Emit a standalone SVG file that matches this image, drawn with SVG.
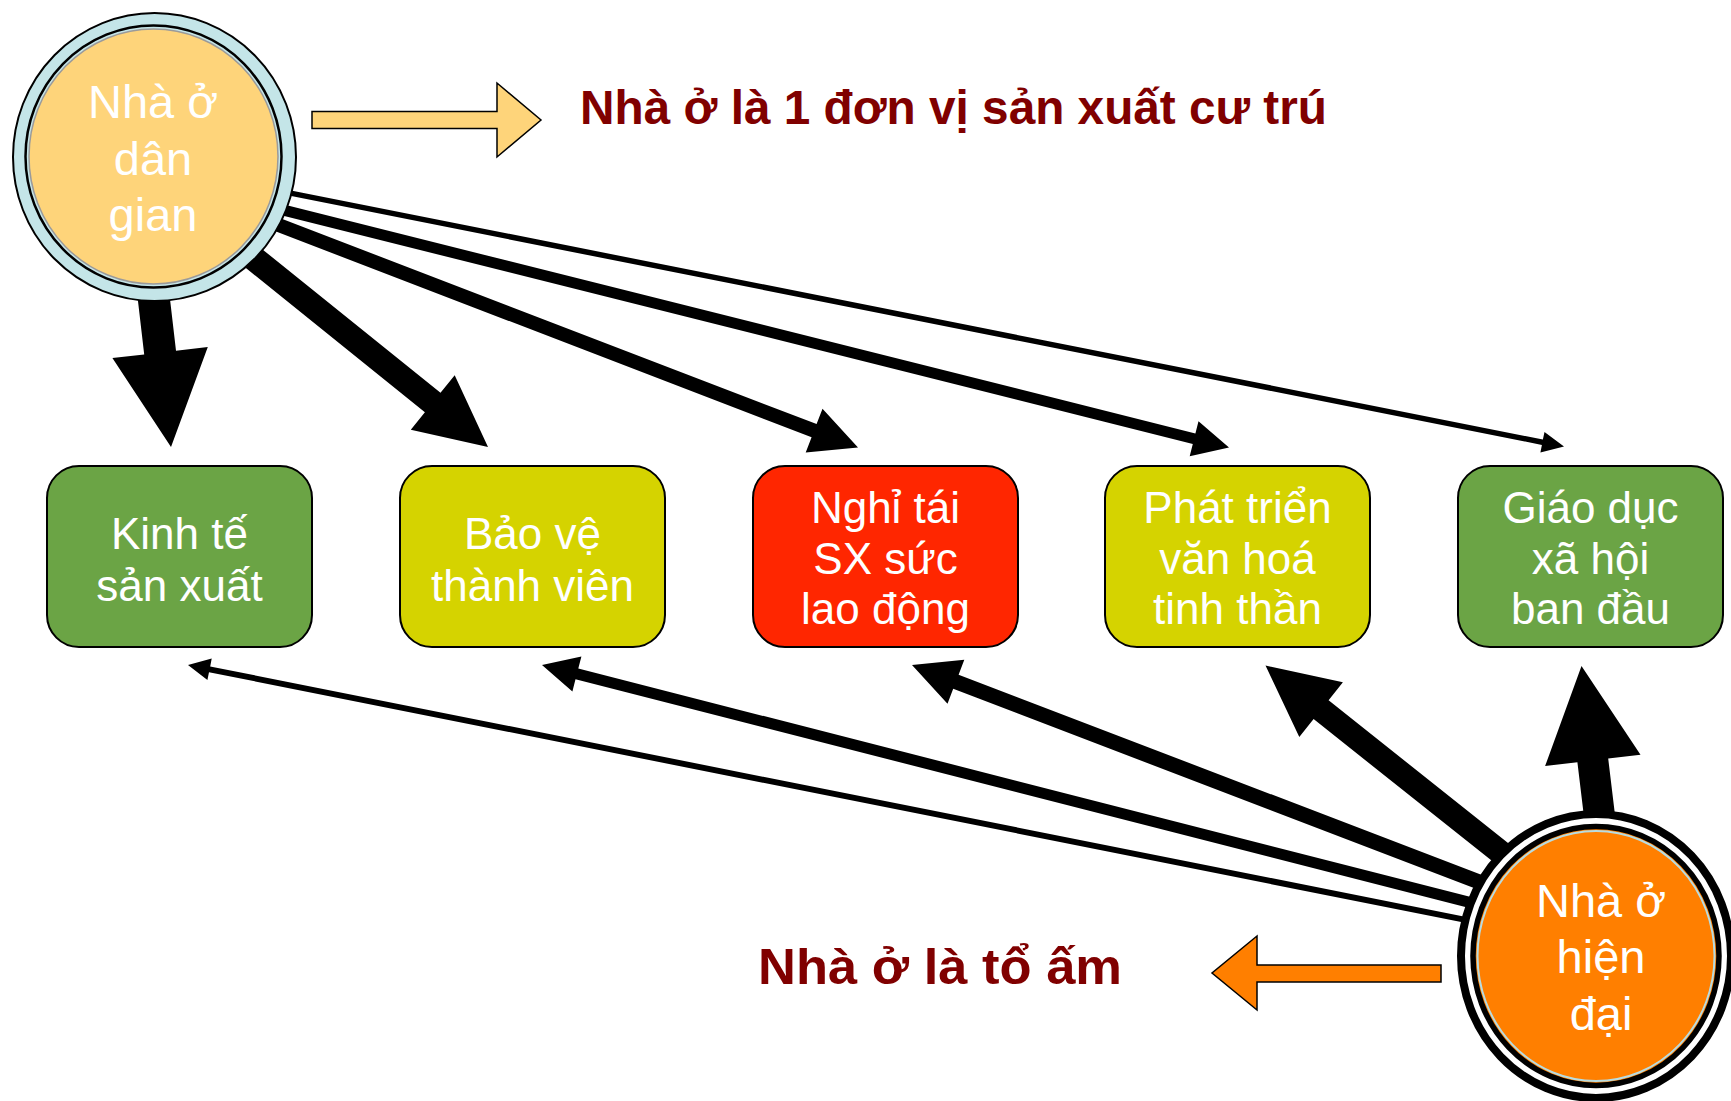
<svg xmlns="http://www.w3.org/2000/svg" width="1731" height="1101" viewBox="0 0 1731 1101">
  <defs>
    <style>
      .box { stroke: #000; stroke-width: 2; }
      .green { fill: #6BA445; }
      .olive { fill: #D5D300; }
      .red { fill: #FF2600; }
      .lbl { font-family: "Liberation Sans", Arial, sans-serif; font-size: 44px; fill: #fff; text-anchor: middle; }
      .big { font-family: "Liberation Sans", Arial, sans-serif; font-size: 47px; fill: #fff; text-anchor: middle; }
      .title { font-family: "Liberation Sans", Arial, sans-serif; font-weight: bold; fill: #800000; }
      .conn polygon { fill: #000; }
      .hollow { stroke: #000; stroke-width: 1.5; stroke-linejoin: miter; }
    </style>
  </defs>
  <rect width="1731" height="1101" fill="#fff"/>

  <!-- block-arrow connectors (drawn first so the circles cover their roots) -->
  <g id="connectors" class="conn">
    <!-- from "Nhà ở dân gian" -->
    <polygon points="168.5,286.3 176.0,350.8 207.8,347.1 171,447 112.4,358.1 144.2,354.4 136.7,290.0"/>
    <polygon points="258.1,245.9 440.5,392.7 454.7,375.2 488,447 410.8,429.8 424.9,412.2 242.5,265.3"/>
    <polygon points="277.8,217.3 816.6,424.1 822.5,408.7 858,447.5 805.7,452.6 811.6,437.2 272.8,230.3"/>
    <polygon points="276.9,202.8 1195.4,433.4 1198.5,421.2 1229,447.5 1189.7,456.2 1192.8,444.0 274.3,213.4"/>
    <polygon points="275.9,187.4 1542.9,439.5 1544.5,431.9 1564,446.5 1540.4,452.5 1541.9,444.9 274.9,192.8"/>
    <!-- from "Nhà ở hiện đại" -->
    <polygon points="1616.2,825.1 1608.2,758.5 1640.5,754.7 1581.5,666 1545.1,766.1 1577.4,762.2 1585.4,828.7"/>
    <polygon points="1518.1,851.0 1328.6,700.3 1342.9,682.3 1265.5,665.5 1299.3,737.1 1313.6,719.1 1503.2,869.8"/>
    <polygon points="1493.7,879.4 958.6,674.8 964.3,659.8 912,665 947.5,703.7 953.2,688.8 1488.3,893.4"/>
    <polygon points="1480.7,899.6 578.3,668.6 581.4,656.5 542,665 572.4,691.4 575.5,679.2 1478.0,910.3"/>
    <polygon points="1481.2,920.0 210.2,666.4 211.7,658.5 188,665 207.4,680.1 209.0,672.2 1480.0,925.8"/>
  </g>

  <!-- folk house node -->
  <g id="node-dan-gian">
    <ellipse cx="154.5" cy="157" rx="141.5" ry="144" fill="#C4E5E8" stroke="#000" stroke-width="2"/>
    <ellipse cx="153.5" cy="156.5" rx="128" ry="131" fill="#C4E5E8" stroke="#000" stroke-width="2.5"/>
    <ellipse cx="153.5" cy="156.5" rx="124.5" ry="127.5" fill="#FED47A" stroke="#9a9a9a" stroke-width="1.5"/>
    <text class="big" x="153" y="118">Nhà ở</text>
    <text class="big" x="153" y="175">dân</text>
    <text class="big" x="153" y="231">gian</text>
  </g>

  <!-- modern house node -->
  <g id="node-hien-dai">
    <ellipse cx="1596" cy="956" rx="135" ry="142" fill="#fff" stroke="#000" stroke-width="8"/>
    <ellipse cx="1596" cy="956" rx="123" ry="129.5" fill="#FF7F00" stroke="#000" stroke-width="5.5"/>
    <ellipse cx="1596" cy="956" rx="118.5" ry="125" fill="#FF7F00" stroke="#B8DCE0" stroke-width="2"/>
    <text class="big" x="1601" y="917">Nhà ở</text>
    <text class="big" x="1601" y="973">hiện</text>
    <text class="big" x="1601" y="1030">đại</text>
  </g>

  <!-- function boxes -->
  <g id="box-kinh-te">
    <rect class="box green" x="47" y="466" width="265" height="181" rx="32" ry="32"/>
    <text class="lbl" x="179.5" y="549">Kinh tế</text>
    <text class="lbl" x="179.5" y="601">sản xuất</text>
  </g>
  <g id="box-bao-ve">
    <rect class="box olive" x="400" y="466" width="265" height="181" rx="32" ry="32"/>
    <text class="lbl" x="532.5" y="549">Bảo vệ</text>
    <text class="lbl" x="532.5" y="601">thành viên</text>
  </g>
  <g id="box-nghi">
    <rect class="box red" x="753" y="466" width="265" height="181" rx="32" ry="32"/>
    <text class="lbl" x="885.5" y="523">Nghỉ tái</text>
    <text class="lbl" x="885.5" y="574">SX sức</text>
    <text class="lbl" x="885.5" y="624">lao động</text>
  </g>
  <g id="box-van-hoa">
    <rect class="box olive" x="1105" y="466" width="265" height="181" rx="32" ry="32"/>
    <text class="lbl" x="1237.5" y="523">Phát triển</text>
    <text class="lbl" x="1237.5" y="574">văn hoá</text>
    <text class="lbl" x="1237.5" y="624">tinh thần</text>
  </g>
  <g id="box-giao-duc">
    <rect class="box green" x="1458" y="466" width="265" height="181" rx="32" ry="32"/>
    <text class="lbl" x="1590.5" y="523">Giáo dục</text>
    <text class="lbl" x="1590.5" y="574">xã hội</text>
    <text class="lbl" x="1590.5" y="624">ban đầu</text>
  </g>

  <!-- caption arrows and captions -->
  <g id="caption-top">
    <polygon class="hollow" fill="#FED47A" points="312,111.5 497,111.5 497,83 541,120 497,157 497,128.5 312,128.5"/>
    <text class="title" x="580" y="124" font-size="48" textLength="747" lengthAdjust="spacingAndGlyphs">Nhà ở là 1 đơn vị sản xuất cư trú</text>
  </g>
  <g id="caption-bottom">
    <polygon class="hollow" fill="#FF7F00" points="1441,965 1257,965 1257,936 1212,973 1257,1010 1257,982 1441,982"/>
    <text class="title" x="758" y="984" font-size="50" textLength="364" lengthAdjust="spacingAndGlyphs">Nhà ở là tổ ấm</text>
  </g>
</svg>
